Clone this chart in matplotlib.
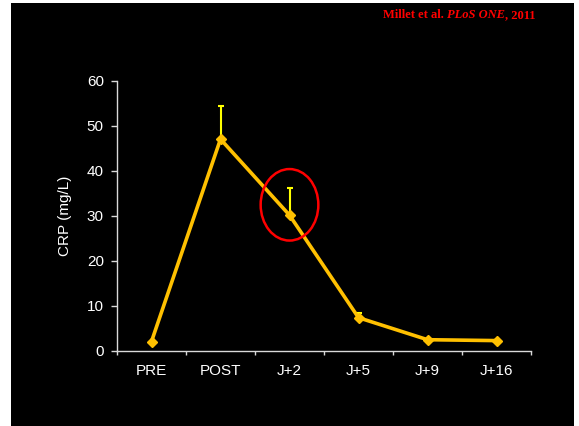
import matplotlib
matplotlib.use("Agg")
import matplotlib.pyplot as plt
from matplotlib.patches import Rectangle, Ellipse
import numpy as np

# Timepoints and CRP means with upper SD bars
timepoints = ["PRE", "POST", "J+2", "J+5", "J+9", "J+16"]
crp_mean = [2.0, 47.0, 30.1, 7.3, 2.4, 2.2]
crp_err_upper = [0.0, 7.4, 6.0, 1.0, 0.0, 0.0]
y_ticks = [0, 10, 20, 30, 40, 50, 60]

plt.rcParams["font.family"] = ["Liberation Sans", "DejaVu Sans"]

fig = plt.figure(figsize=(5.79, 4.26), dpi=100, facecolor="white")
fig.patches.append(Rectangle((11 / 579, 0), (574 - 11) / 579, (426 - 3) / 426,
                             transform=fig.transFigure, facecolor="black",
                             edgecolor="none", zorder=-5))

ax = fig.add_axes([117 / 579, 1 - 350.5 / 426, (531 - 117) / 579, (350.5 - 80.7) / 426])
ax.set_facecolor("none")

x = np.arange(len(timepoints))
ax.errorbar(x, crp_mean, yerr=[np.zeros(len(x)), crp_err_upper], fmt="none",
            ecolor="#FFFF00", elinewidth=1.5, capsize=2, capthick=1.5, zorder=2)
ax.plot(x, crp_mean, color="#FFC000", linewidth=2.6, marker="D", markersize=5,
        markeredgecolor="#FFC000", markerfacecolor="#FFC000", zorder=3)

# Highlight of the J+2 point
ax.add_patch(Ellipse((2, 32.4), 0.836, 15.9, fill=False, edgecolor="#FF0000",
                     linewidth=1.8, zorder=4))

ax.set_xlim(-0.5, len(x) - 0.5)
ax.set_ylim(0, 60)
ax.set_yticks(y_ticks)
ax.set_xticks(x)
ax.set_xticklabels(timepoints)
ax.set_xticks(np.arange(-0.5, len(x)), minor=True)
ax.tick_params(axis="x", which="major", length=0, pad=10, colors="white", labelsize=11)
ax.tick_params(axis="x", which="minor", length=3, color="#d9d9d9", width=1)
ax.tick_params(axis="y", length=4, color="#d9d9d9", width=1, colors="white",
               labelsize=11, pad=5.5)
for side in ["top", "right"]:
    ax.spines[side].set_visible(False)
for side in ["left", "bottom"]:
    ax.spines[side].set_color("#d9d9d9")
    ax.spines[side].set_linewidth(1)
ax.set_ylabel("CRP (mg/L)", color="white", fontsize=11, labelpad=11)

# Citation in the top right corner, bold with an italic journal name
fig.canvas.draw()
renderer = fig.canvas.get_renderer()
parts = [("Millet et al. ", "normal"), ("PLoS ONE", "italic"), (", 2011", "normal")]
xpos = 383
for text, style in parts:
    t = fig.text(xpos / 579, 1 - 15 / 426, text, color="#FF0000", fontsize=9,
                 fontweight="bold", fontstyle=style, family="Liberation Serif",
                 va="center", ha="left")
    bb = t.get_window_extent(renderer)
    xpos += bb.width

fig.savefig("out.png", dpi=100, facecolor="white")
